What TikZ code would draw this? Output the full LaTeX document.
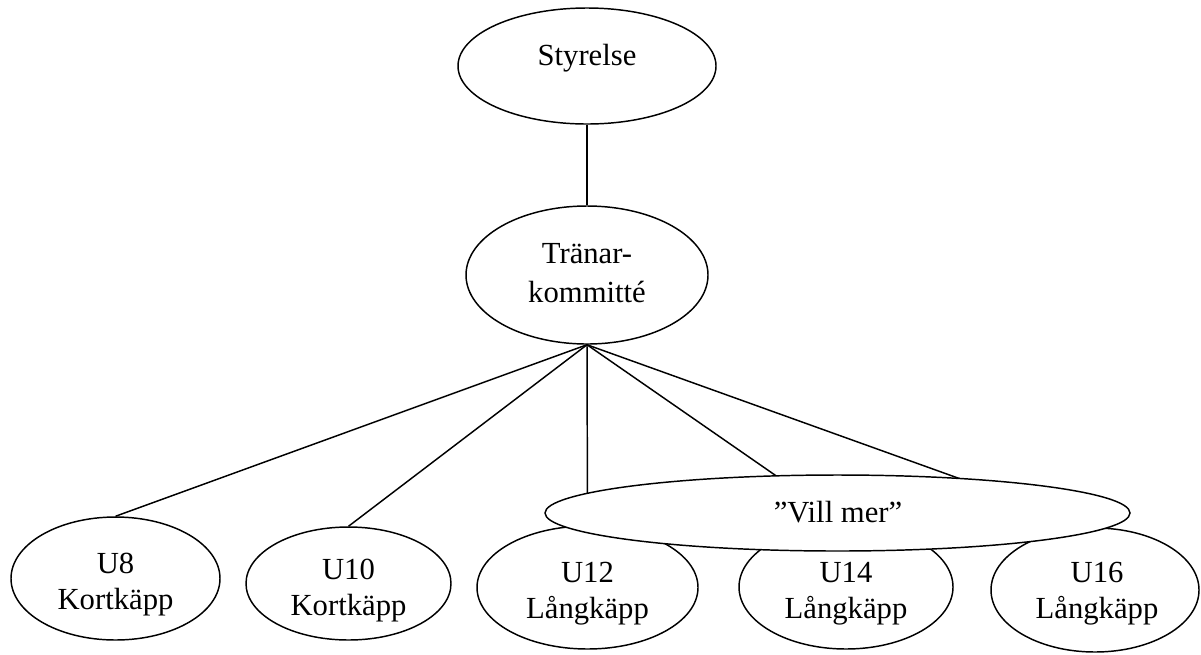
\documentclass[tikz,border=0pt]{standalone}
\usepackage{fontspec}
\setmainfont{Liberation Serif}
\usetikzlibrary{shapes.geometric}
\tikzset{
  ell/.style 2 args={ellipse, draw, fill=white, line width=1.1pt, inner sep=0pt,
    minimum width=#1*1.5pt, minimum height=#2*1.5pt},
  lbl/.style={align=center, inner sep=0pt, font=\fontsize{23}{27}\selectfont},
  conn/.style={line width=1.1pt}
}
\begin{document}
\begin{tikzpicture}[x=0.75pt, y=-0.75pt]
\useasboundingbox (0,0) rectangle (1201,654);
% ellipses drawn first, then connectors, then the overlapping "Vill mer"
\node[ell={129}{58}] (styr) at (587,66) {};
\node[ell={121}{69}] (tk) at (587,275) {};
\node[ell={104.5}{61.5}] (u8) at (115.5,578.5) {};
\node[ell={102.5}{56.5}] (u10) at (348.5,583.5) {};
\node[ell={110.5}{61.5}] (u12) at (587.5,587.5) {};
\node[ell={107}{62}] (u14) at (846,587) {};
\node[ell={104}{62}] (u16) at (1095,590) {};
\draw[conn] (styr.south) -- (tk.north);
\draw[conn] (tk.south) -- (u8.north);
\draw[conn] (tk.south) -- (u10.north);
\draw[conn] (tk.south) -- (u12.north);
\draw[conn] (tk.south) -- (u14.north);
\draw[conn] (tk.south) -- (u16.north);
\node[ell={292.5}{38}] (vm) at (837.5,513) {};
% texts
\node[lbl] (tstyr) at (587,58) {Styrelse};
\node[lbl, font=\fontsize{23}{29}\selectfont] (ttk) at (587,273) {Tränar-\\kommitté};
\node[lbl] (tu8) at (115.5,585) {U8\\Kortkäpp};
\node[lbl] (tu10) at (348.5,591) {U10\\Kortkäpp};
\node[lbl] (tu12) at (587.5,594) {U12\\Långkäpp};
\node[lbl] (tu14) at (846,594) {U14\\Långkäpp};
\node[lbl] (tu16) at (1097,594) {U16\\Långkäpp};
\node[lbl] (tvm) at (838,512) {”Vill mer”};
\end{tikzpicture}
\end{document}
